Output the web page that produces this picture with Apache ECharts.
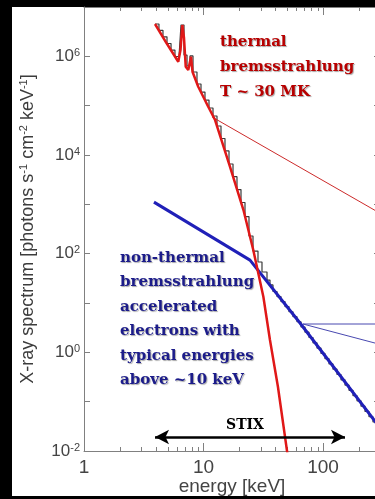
<!DOCTYPE html>
<html>
<head>
<meta charset="utf-8">
<script src="https://cdn.jsdelivr.net/npm/echarts@6.0.0/dist/echarts.min.js"></script>
<style>
  html, body { margin: 0; padding: 0; background: #000; }
  #chart { width: 375px; height: 499px; }
</style>
</head>
<body>
<div id="chart"></div>
<script>
// thermal model curve (red), keV vs photons s^-1 cm^-2 keV^-1
const thermalEnergy = [3.93, 4.90, 6.15, 6.42, 6.65, 6.87, 7.10, 7.46, 7.86, 8.09, 9.04, 10.96, 12.5, 16.7, 21.6, 26.1, 31.7, 36.0, 42.0, 50.0, 53.0];
const thermalFlux = [4.52e6, 1.86e6, 7.78e5, 1.34e6, 4.32e6, 2.35e6, 6.17e5, 5.28e5, 9.84e5, 4.88e5, 2.42e5, 9.53e4, 5.12e4, 5.71e3, 767, 119, 13.4, 1.78, 0.198, 0.01, 0.004];

// non-thermal broken power law (blue)
const nonThermalEnergy = [3.85, 24.5, 64.2, 300];
const nonThermalFlux = [1.11e3, 74, 3.93, 0.0295];

// observed spectrum, left bin edges + counts (grey steps)
const binEdges = [3.93, 4.24, 4.58, 4.95, 5.35, 5.77, 6.24, 6.48, 6.87, 7.28, 7.71, 8.17, 8.82, 9.53, 10.29, 11.12, 12.01, 12.97, 14.01, 15.13, 16.35, 17.66, 19.07, 20.60, 22.25, 24.03, 25.96, 28.58, 30.87, 34.00, 36.02, 38.16, 41.22, 44.52, 48.09, 51.94, 56.11, 60.60, 65.46, 70.70, 76.37, 82.49, 89.10, 96.23, 103.9, 112.3, 121.2, 131.0, 141.5, 152.8, 165.1, 178.3, 192.6, 208.0, 224.7, 242.7, 262.1, 283.1, 300];
const binFlux = [4.52e6, 3.36e6, 2.49e6, 1.82e6, 1.34e6, 9.93e5, 9.25e5, 4.32e6, 1.06e6, 6.37e5, 1.02e6, 4.81e5, 2.75e5, 1.89e5, 1.30e5, 8.97e4, 6.17e4, 3.87e4, 2.16e4, 1.21e4, 6.57e3, 3.63e3, 1.99e3, 1.09e3, 566, 228, 113, 67.8, 42.5, 29.2, 23.2, 17.1, 13.5, 10.7, 8.45, 6.65, 5.27, 4.17, 3.26, 2.56, 2.00, 1.56, 1.22, 0.951, 0.745, 0.582, 0.455, 0.355, 0.277, 0.217, 0.170, 0.132, 0.104, 0.0809, 0.0634, 0.0495, 0.0387, 0.0302];

// thin pointer lines leaving the plot on the right
const thermalPointer = [[11.8, 5.9e4], [300, 660]];
const nonThermalPointerA = [[68, 3.75], [300, 3.75]];
const nonThermalPointerB = [[68, 3.75], [300, 1.45]];

// STIX energy range arrow
const stixRange = [3.93, 152.8];
const stixLevel = 0.0192;

const minorTickValues = [2, 3, 4, 5, 6, 7, 8, 9, 20, 30, 40, 50, 60, 70, 80, 90, 200];

const thermalLabel = ['thermal', 'bremsstrahlung', 'T ~ 30 MK'];
const nonThermalLabel = ['non-thermal', 'bremsstrahlung', 'accelerated', 'electrons with', 'typical energies', 'above ~10 keV'];

const axisGrey = '#808080';
const sans = 'Liberation Sans';
const serif = 'DejaVu Serif';

const zip = (xs, ys) => xs.map((x, i) => [x, ys[i]]);
const histData = binEdges.map((e, i) => [e, binFlux[Math.min(i, binFlux.length - 1)]]);

const isPow10 = v => Math.abs(Math.log10(v) - Math.round(Math.log10(v))) < 1e-6;

const annotation = (lines, x, y0, step, color) => lines.map((t, i) => ({
  type: 'text',
  z: 100,
  x: x,
  y: y0 + i * step,
  style: {
    text: t,
    fill: color,
    font: 'bold 15px "' + serif + '"',
    textVerticalAlign: 'middle',
    textShadowColor: 'rgba(0,0,0,0.35)',
    textShadowOffsetX: 1,
    textShadowOffsetY: 1,
    textShadowBlur: 1
  }
}));

const chart = echarts.init(document.getElementById('chart'));

chart.setOption({
  backgroundColor: '#000',
  animation: false,
  textStyle: { fontFamily: sans },
  grid: { left: 84, top: 7, width: 296, height: 444, containLabel: false, outerBoundsMode: 'none' },
  graphic: [
    { type: 'rect', z: -10, shape: { x: 12, y: 7, width: 363, height: 489 }, style: { fill: '#fff' } },
    ...annotation(thermalLabel, 220, 42.5, 25, '#b80000'),
    ...annotation(nonThermalLabel, 120, 258, 24.5, '#1c1c8a'),
    {
      type: 'text', z: 100, x: 245, y: 425,
      style: { text: 'STIX', fill: '#000', font: 'bold 14px "' + serif + '"', textAlign: 'center', textVerticalAlign: 'middle' }
    }
  ],
  xAxis: [
    {
      type: 'log', logBase: 10, min: 1, max: 300, position: 'bottom',
      axisLine: { lineStyle: { color: axisGrey } },
      axisTick: { inside: true, length: 8, lineStyle: { color: axisGrey } },
      splitLine: { show: false },
      axisLabel: {
        color: '#444', fontSize: 19, margin: 7, showMaxLabel: false,
        formatter: v => isPow10(v) ? String(Math.round(v)) : ''
      },
      name: 'energy [keV]', nameLocation: 'middle', nameGap: 26, nameMoveOverlap: false,
      nameTextStyle: { color: '#444', fontSize: 19 }
    },
    {
      type: 'log', logBase: 10, min: 1, max: 300, position: 'top',
      axisLine: { lineStyle: { color: axisGrey } },
      axisTick: { inside: true, length: 8, lineStyle: { color: axisGrey } },
      splitLine: { show: false },
      axisLabel: { show: false }
    }
  ],
  yAxis: [
    {
      type: 'log', logBase: 10, min: 0.01, max: 1e7, splitNumber: 9, position: 'left',
      axisLine: { show: true, lineStyle: { color: axisGrey } },
      axisTick: { inside: true, length: 6, lineStyle: { color: axisGrey } },
      splitLine: { show: false },
      axisLabel: {
        margin: 4,
        formatter: v => {
          const e = Math.round(Math.log10(v));
          if (e % 2 !== 0) return '';
          return '{b|10}{s|' + e + '}';
        },
        rich: {
          b: { fontSize: 17, lineHeight: 18, color: '#444', fontFamily: sans },
          s: { fontSize: 11, lineHeight: 11, color: '#444', fontFamily: sans, verticalAlign: 'top' }
        }
      },
      name: 'X-ray spectrum [photons s{s|-1} cm{s|-2} keV{s|-1}]',
      nameLocation: 'middle', nameRotate: 90, nameGap: 46, nameMoveOverlap: false,
      nameTextStyle: {
        color: '#3c3c3c', fontSize: 18, lineHeight: 20, fontFamily: sans,
        rich: {
          s: { fontSize: 11, lineHeight: 11, color: '#3c3c3c', fontFamily: sans, verticalAlign: 'top' }
        }
      }
    },
    {
      type: 'log', logBase: 10, min: 0.01, max: 1e7, splitNumber: 9, position: 'right',
      axisLine: { show: true, lineStyle: { color: axisGrey } },
      axisTick: { inside: true, length: 6, lineStyle: { color: axisGrey } },
      splitLine: { show: false },
      axisLabel: { show: false }
    }
  ],
  series: [
    {
      name: 'minor ticks', type: 'custom', silent: true, z: 1,
      data: minorTickValues.map(v => [v, 1]),
      renderItem: (params, api) => {
        const x = Math.round(api.coord([api.value(0), 1])[0]) + 0.5;
        const yb = api.coord([1, 0.01])[1];
        const yt = api.coord([1, 1e7])[1];
        const st = { stroke: axisGrey, lineWidth: 1 };
        return {
          type: 'group',
          children: [
            { type: 'line', shape: { x1: x, y1: yb, x2: x, y2: yb - 4 }, style: st },
            { type: 'line', shape: { x1: x, y1: yt, x2: x, y2: yt + 4 }, style: st }
          ]
        };
      }
    },
    {
      name: 'observed', type: 'line', step: 'end', data: histData, showSymbol: false, silent: true, z: 2,
      lineStyle: { color: '#3a3a3a', width: 1.2 }
    },
    {
      name: 'thermal pointer', type: 'line', data: thermalPointer, showSymbol: false, silent: true, z: 2,
      lineStyle: { color: '#cc2a2a', width: 1 }
    },
    {
      name: 'non-thermal pointer a', type: 'line', data: nonThermalPointerA, showSymbol: false, silent: true, z: 2,
      lineStyle: { color: '#4848b0', width: 1 }
    },
    {
      name: 'non-thermal pointer b', type: 'line', data: nonThermalPointerB, showSymbol: false, silent: true, z: 2,
      lineStyle: { color: '#4848b0', width: 1 }
    },
    {
      name: 'thermal', type: 'line', data: zip(thermalEnergy, thermalFlux), showSymbol: false, silent: true, z: 4,
      lineStyle: { color: '#e01818', width: 2.5 }
    },
    {
      name: 'non-thermal', type: 'line', data: zip(nonThermalEnergy, nonThermalFlux), showSymbol: false, silent: true, z: 3,
      lineStyle: { color: '#2020b8', width: 3 }
    },
    {
      name: 'STIX', type: 'line', data: [], silent: true, z: 5,
      markLine: {
        silent: true,
        symbol: ['arrow', 'arrow'],
        symbolSize: [11, 14],
        label: { show: false },
        lineStyle: { color: '#000', width: 2.5, type: 'solid' },
        data: [[{ coord: [stixRange[0], stixLevel] }, { coord: [stixRange[1], stixLevel] }]]
      }
    }
  ]
});
</script>
</body>
</html>
